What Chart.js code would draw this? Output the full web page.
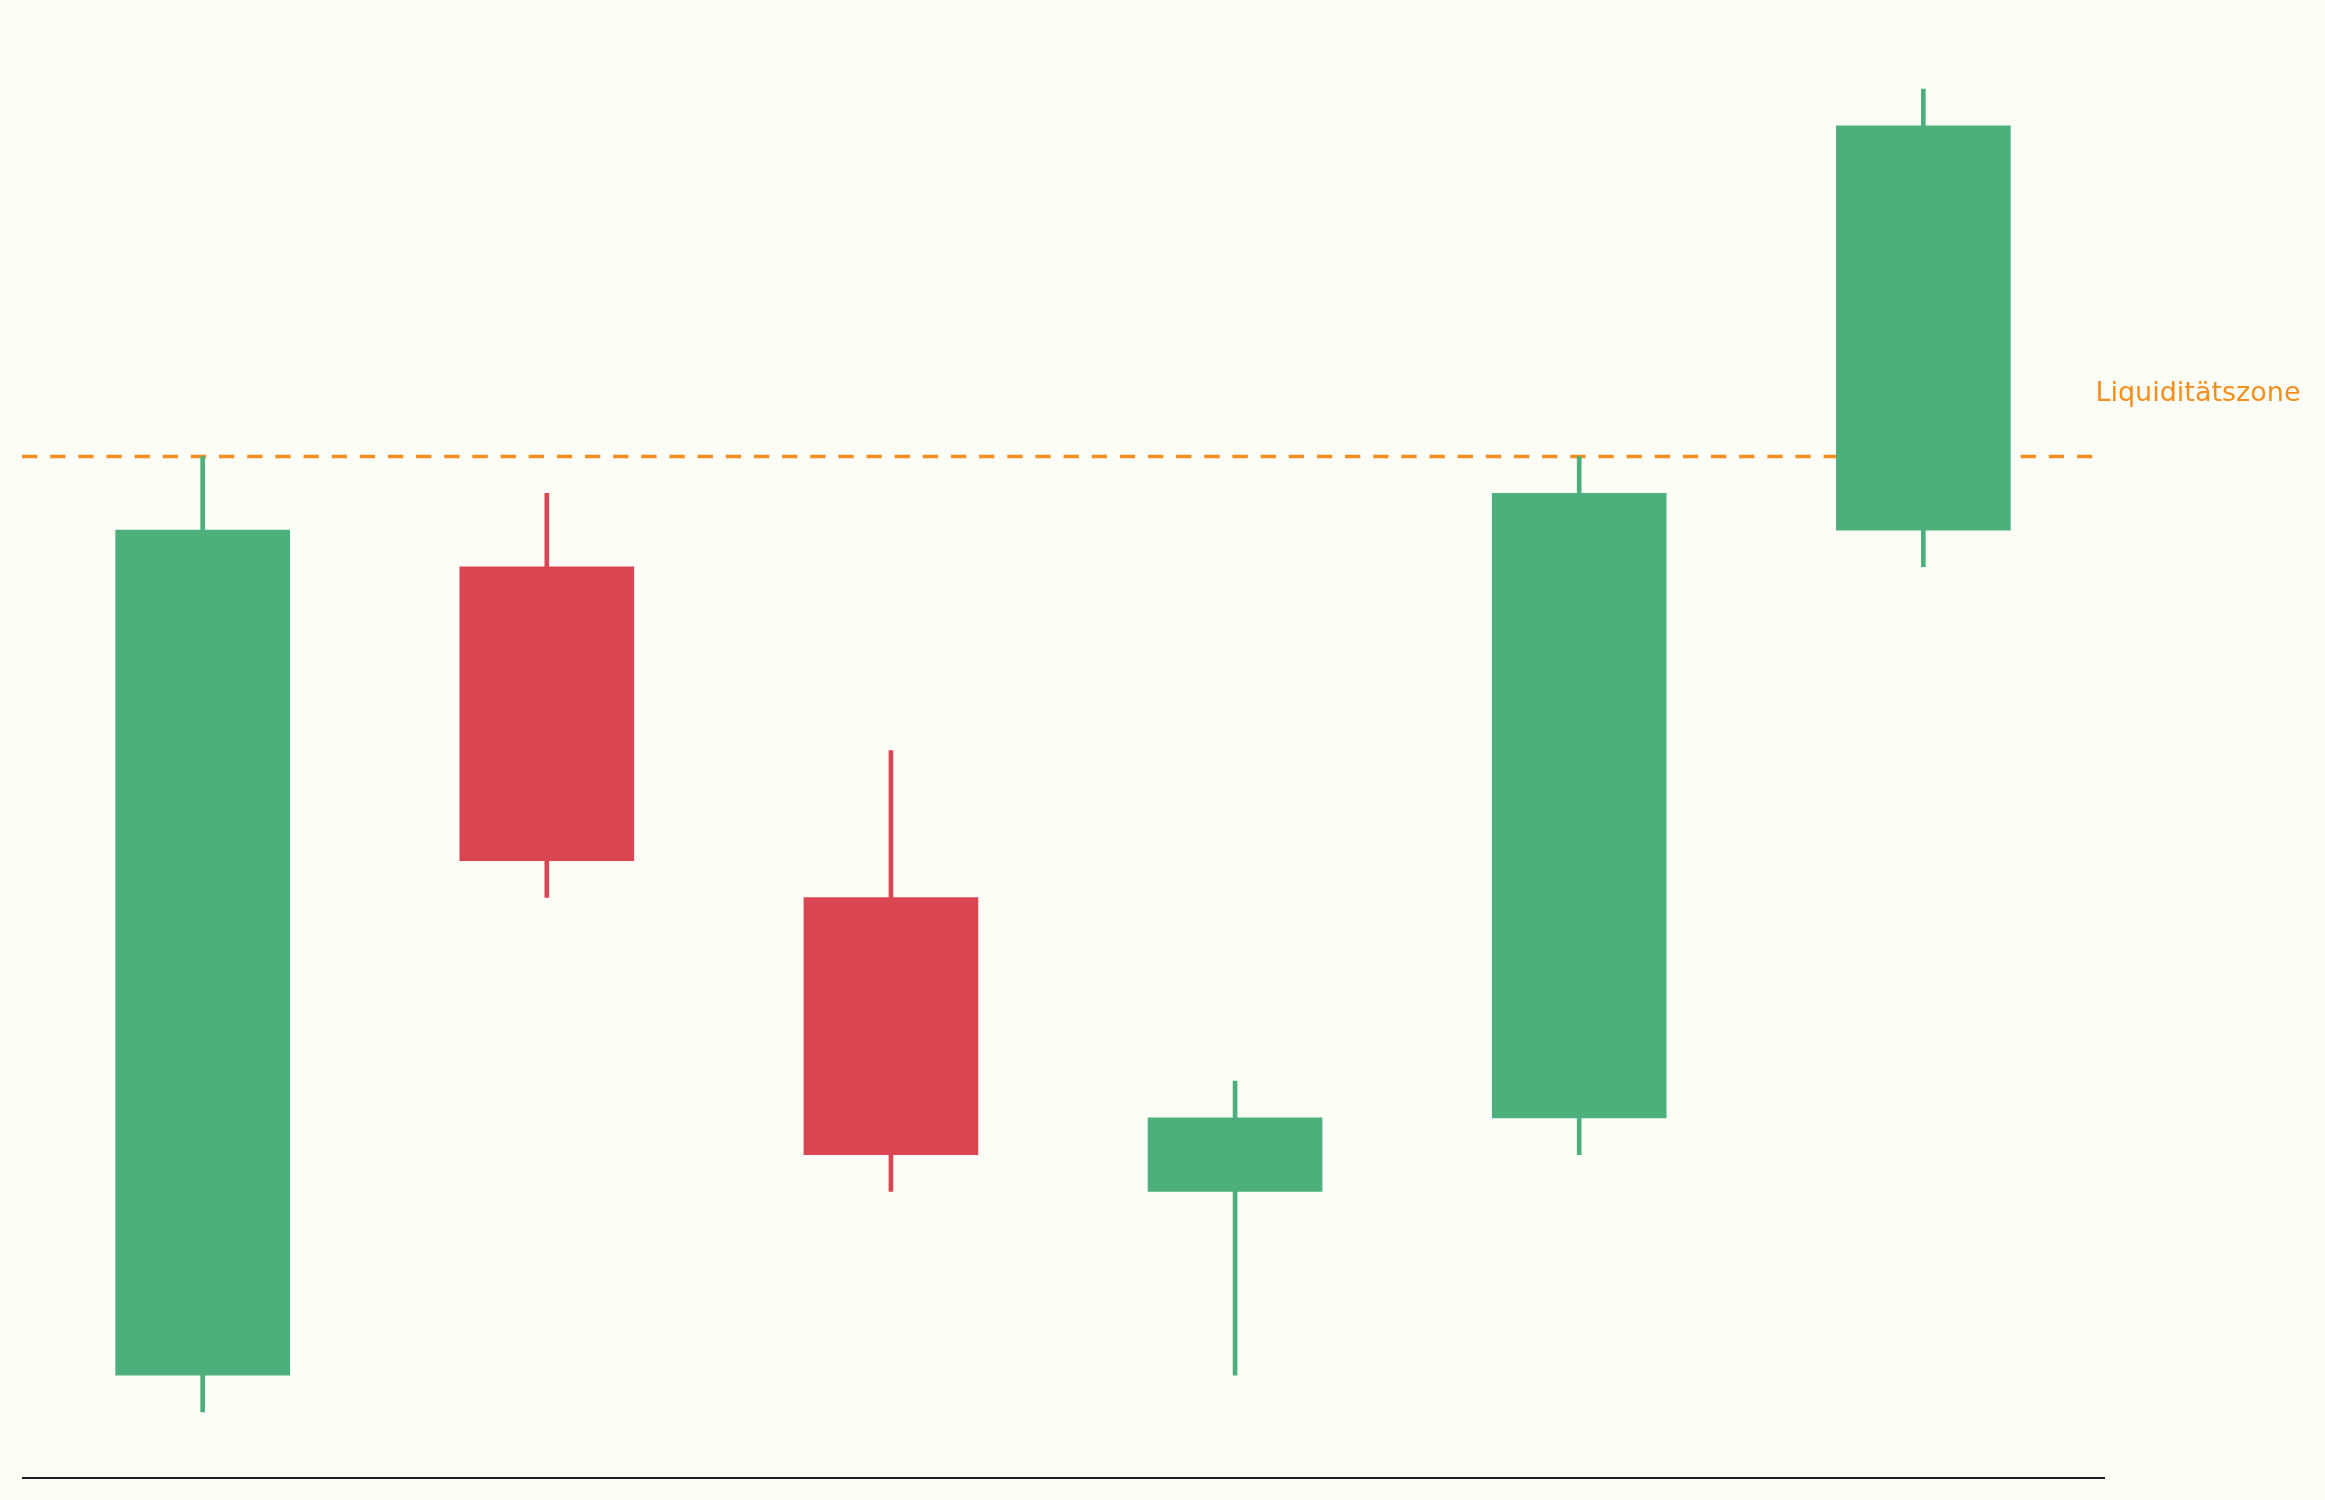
<!DOCTYPE html>
<html>
<head>
<meta charset="utf-8">
<script src="https://cdn.jsdelivr.net/npm/chart.js@4"></script>
<style>
  html, body { margin: 0; padding: 0; background: #fdfdf8; }
  canvas { display: block; }
</style>
</head>
<body>
<canvas id="candles" width="2325" height="1500"></canvas>
<script>
// candle data (positions 0..5)
var candleX = [0, 1, 2, 3, 4, 5];
var openP  = [101, 123, 114, 106, 108, 124];
var highP  = [126, 125, 118, 109, 126, 136];
var lowP   = [100, 114, 106, 101, 107, 123];
var closeP = [124, 115, 107, 108, 125, 135];

var zoneLevel = 126;
var zoneLabel = 'Liquiditätszone';
var zoneLabelX = 5.5;
var zoneLabelY = 127.5;

var green = '#4daf7c';
var red = '#d94652';
var orange = '#f58e1c';

var bodies = [];
var wicks = [];
var colors = [];
var i;
for (i = 0; i < candleX.length; i++) {
    bodies.push({x: candleX[i], y: [openP[i], closeP[i]]});
    wicks.push({x: candleX[i], y: [lowP[i], highP[i]]});
    colors.push(closeP[i] >= openP[i] ? green : red);
}

// dashed level under the candles, spine + label on top
var zonePlugin = {
    id: 'zone',
    beforeDatasetsDraw: function(chart) {
        var ctx = chart.ctx;
        var area = chart.chartArea;
        var y = chart.scales.y.getPixelForValue(zoneLevel);
        ctx.save();
        ctx.strokeStyle = orange;
        ctx.lineWidth = 3.4;
        ctx.setLineDash([15.3, 12.85]);
        ctx.beginPath();
        ctx.moveTo(area.left, y);
        ctx.lineTo(area.right, y);
        ctx.stroke();
        ctx.restore();
    },
    afterDatasetsDraw: function(chart) {
        var ctx = chart.ctx;
        var area = chart.chartArea;
        var yb = Math.round(area.bottom);
        ctx.save();
        ctx.strokeStyle = '#1e1e1e';
        ctx.lineWidth = 2;
        ctx.beginPath();
        ctx.moveTo(area.left, yb);
        ctx.lineTo(area.right + 1, yb);
        ctx.stroke();
        ctx.fillStyle = orange;
        ctx.font = '27px "DejaVu Sans"';
        ctx.textAlign = 'left';
        ctx.textBaseline = 'alphabetic';
        ctx.fillText(zoneLabel, chart.scales.x.getPixelForValue(zoneLabelX), chart.scales.y.getPixelForValue(zoneLabelY));
        ctx.restore();
    }
};

var ctx = document.getElementById('candles').getContext('2d');

new Chart(ctx, {
    type: 'bar',
    data: {
        datasets: [{
            label: 'Body',
            data: bodies,
            backgroundColor: colors,
            borderWidth: 0,
            borderSkipped: false,
            barThickness: 174
        },
        {
            label: 'Wick',
            data: wicks,
            backgroundColor: colors,
            borderWidth: 0,
            borderSkipped: false,
            barThickness: 4
        }]
    },
    options: {
        responsive: false,
        devicePixelRatio: 1,
        animation: false,
        layout: {
            padding: {left: 22, right: 221, top: 23, bottom: 22}
        },
        plugins: {
            legend: {display: false},
            tooltip: {enabled: false}
        },
        scales: {
            x: {
                type: 'linear',
                min: -0.525,
                max: 5.525,
                offset: false,
                display: false
            },
            y: {
                min: 98.2,
                max: 137.8,
                display: false
            }
        },
        datasets: {
            bar: {grouped: false}
        }
    },
    plugins: [zonePlugin]
});
</script>
</body>
</html>
